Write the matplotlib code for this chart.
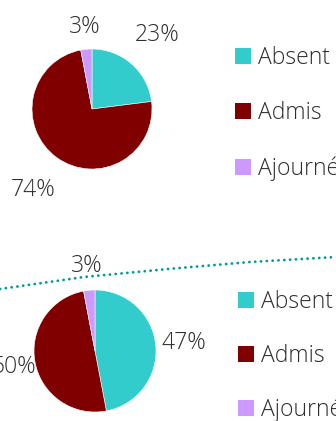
import matplotlib
matplotlib.use("Agg")
import numpy as np
import matplotlib.pyplot as plt
from matplotlib.patches import Patch

# Category data
categories = ["Absent", "Admis", "Ajourné"]
colors = ["#33CCCC", "#800000", "#CC99FF"]
values_top = [23, 74, 3]
values_bottom = [47, 50, 3]

# Dotted trend curve across the lower panel (pixel positions)
curve_x = [0, 84, 168, 250, 336]
curve_y = [289, 277, 269, 262, 257]

W, H = 336, 421
DPI = 100
FONT = "Open Sans"
WEIGHT = "light"
TEXT_COLOR = "#2e2e2e"
FS = 16.5

fig = plt.figure(figsize=(W / DPI, H / DPI), dpi=DPI)
fig.patch.set_facecolor("white")

# Background layer for the dotted curve
bg = fig.add_axes([0, 0, 1, 1])
bg.set_xlim(0, W)
bg.set_ylim(H, 0)
bg.axis("off")
bg.plot(curve_x, curve_y, linestyle=(0, (0.05, 2.05)), color="#009999",
        linewidth=2.0, dash_capstyle="round", zorder=1)


def draw_pie(cx, cy, r, values, label_dist):
    ax = fig.add_axes([(cx - r) / W, (H - cy - r) / H, 2 * r / W, 2 * r / H])
    wedges, _ = ax.pie(values, colors=colors, startangle=90, counterclock=False,
                       radius=1.0, wedgeprops=dict(edgecolor="white", linewidth=0.4))
    ax.set_xlim(-1, 1)
    ax.set_ylim(-1, 1)
    ax.axis("off")
    for w, v, d in zip(wedges, values, label_dist):
        ang = np.deg2rad((w.theta1 + w.theta2) / 2)
        ax.text(d * np.cos(ang), d * np.sin(ang), f"{v}%", ha="center", va="center",
                fontsize=FS, family=FONT, fontweight=WEIGHT, color=TEXT_COLOR,
                clip_on=False)
    return ax


def draw_legend(x, y_top, spacing):
    handles = [Patch(facecolor=c, edgecolor="none") for c in colors]
    leg = fig.legend(handles, categories, loc="upper left",
                     bbox_to_anchor=(x / W, 1 - y_top / H), frameon=False,
                     prop=dict(family=FONT, weight=WEIGHT, size=FS),
                     handlelength=0.7, handleheight=0.7, handletextpad=0.3,
                     labelspacing=spacing, borderpad=0, borderaxespad=0)
    for t in leg.get_texts():
        t.set_color(TEXT_COLOR)
    return leg


draw_pie(92, 109, 60, values_top, [1.64, 1.67, 1.37])
draw_pie(95, 351, 61, values_bottom, [1.46, 1.36, 1.40])

draw_legend(235, 46, 1.36)
draw_legend(238, 290, 1.30)

fig.savefig("out.png", dpi=DPI, facecolor="white")
